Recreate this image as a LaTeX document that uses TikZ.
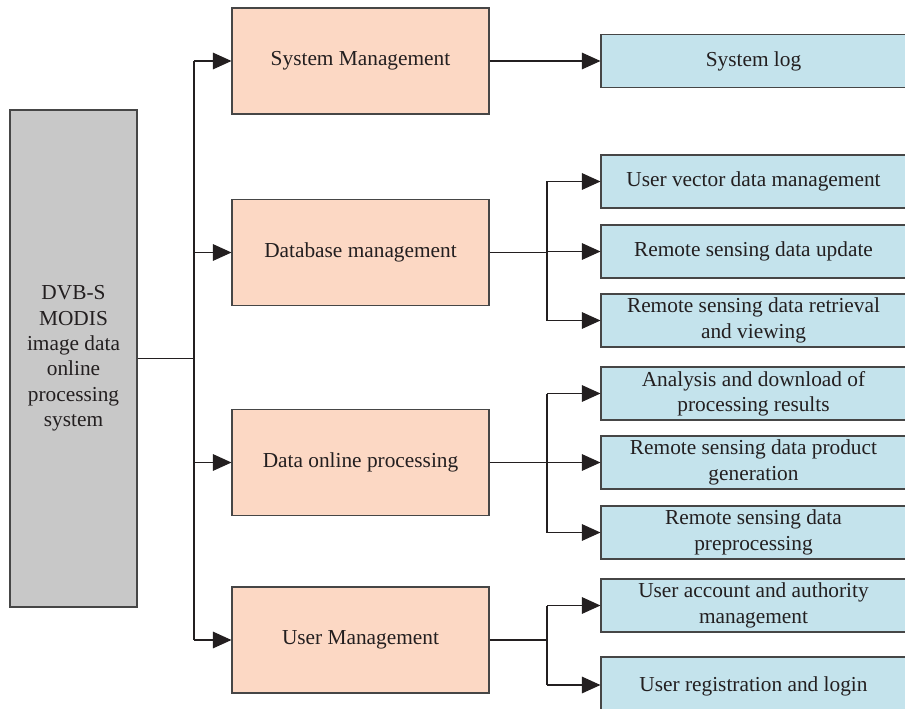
\documentclass[tikz,border=0pt]{standalone}
\usepackage{fontspec}
\setmainfont{Liberation Serif}
\usetikzlibrary{arrows.meta,positioning}

\definecolor{graybox}{RGB}{200,200,200}
\definecolor{peachbox}{RGB}{252,216,196}
\definecolor{bluebox}{RGB}{196,227,236}
\definecolor{inkdark}{RGB}{35,31,32}
\definecolor{edgegray}{RGB}{70,70,70}

\begin{document}
\begin{tikzpicture}[x=0.75pt,y=-0.75pt,
  font=\fontsize{16}{19}\selectfont, text=inkdark,
  box/.style={draw=edgegray, line width=0.8pt, align=center, inner sep=0pt},
  rootbox/.style={box, fill=graybox, minimum width=95.25pt, minimum height=372.75pt},
  midbox/.style={box, fill=peachbox, minimum width=192.75pt, minimum height=79.5pt},
  leafbox/.style={box, fill=bluebox, minimum width=228.75pt, minimum height=39.75pt},
  link/.style={draw=inkdark, line width=0.9pt},
  arr/.style={link, -{Triangle[length=14pt,width=12.5pt]}}]
\useasboundingbox (0,0) rectangle (905,709);

\node[rootbox] (root) at (73.5,358.5) {DVB-S\\MODIS\\image data\\online\\processing\\system};

\node[midbox] (sm) at (360.5,61) {System Management};
\node[midbox] (dm) at (360.5,252.5) {Database management};
\node[midbox] (dp) at (360.5,462.5) {Data online processing};
\node[midbox] (um) at (360.5,640) {User Management};

\node[leafbox] (log) at (753.5,61) {System log};
\node[leafbox] (uv) at (753.5,181.5) {User vector data management};
\node[leafbox] (ru) at (753.5,251.5) {Remote sensing data update};
\node[leafbox] (rr) at (753.5,320.5) {Remote sensing data retrieval\\and viewing};
\node[leafbox] (ad) at (753.5,393.5) {Analysis and download of\\processing results};
\node[leafbox] (pg) at (753.5,462.5) {Remote sensing data product\\generation};
\node[leafbox] (pp) at (753.5,532.5) {Remote sensing data\\preprocessing};
\node[leafbox] (ua) at (753.5,605.5) {User account and authority\\management};
\node[leafbox, minimum height=42pt, text depth=2pt] (ur) at (753.5,685) {User registration and login};

% trunk
\coordinate (trunk) at (194,358.5);
\path[link] (root) -- (root -| trunk);
\path[link] (trunk |- sm) -- (trunk |- um);
\foreach \m in {sm,dm,dp,um}
  \path[arr] (trunk |- \m) -- (\m);

% branches
\path[arr] (sm) -- (log);
\coordinate (bx) at (547,0);
\path[link] (dm) -- (dm -| bx);
\path[link] (bx |- uv) -- (bx |- rr);
\foreach \l in {uv,ru,rr}
  \path[arr] (bx |- \l) -- (\l);
\path[link] (dp) -- (dp -| bx);
\path[link] (bx |- ad) -- (bx |- pp);
\foreach \l in {ad,pg,pp}
  \path[arr] (bx |- \l) -- (\l);
\path[link] (um) -- (um -| bx);
\path[link] (bx |- ua) -- (bx |- ur);
\foreach \l in {ua,ur}
  \path[arr] (bx |- \l) -- (\l);
\end{tikzpicture}
\end{document}
